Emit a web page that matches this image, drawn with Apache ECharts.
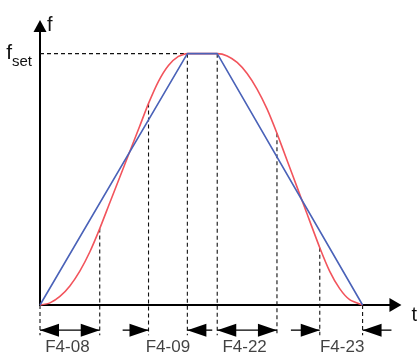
<!DOCTYPE html>
<html>
<head>
<meta charset="utf-8">
<script src="https://cdn.jsdelivr.net/npm/echarts@6/dist/echarts.min.js"></script>
<style>
  html, body { margin: 0; padding: 0; background: #fff; }
  #chart { width: 420px; height: 352px; }
</style>
</head>
<body>
<div id="chart"></div>
<script>
// time axis in arbitrary units, frequency normalised to fset = 1
var blueT = [0, 148, 178, 324]
var blueF = [0, 1, 1, 0]

// S-curve
var redT = [0, 10, 20, 30, 40, 50, 60, 70, 80, 90, 100, 109, 119, 129, 139, 148,
            178, 188, 198, 208, 218, 228, 238, 248, 258, 268, 281, 291, 301, 311, 324]
var redF = [0, 0.0085, 0.034, 0.076, 0.135, 0.211, 0.304, 0.406, 0.507, 0.609, 0.71, 0.802, 0.89, 0.953, 0.989, 1,
            1, 0.991, 0.965, 0.921, 0.859, 0.78, 0.683, 0.577, 0.471, 0.365, 0.228, 0.134, 0.065, 0.021, 0]

// phase boundaries (dashed guides)
var keyTimes = [0, 60, 109, 148, 178, 238, 281, 324]

// bottom dimension arrows: [from, to, arrow at start, arrow at end]
var dimArrows = [
    [0, 60, 'left', 'right'],
    [83, 109, null, 'right'],
    [148, 173, 'left', null],
    [178, 238, 'left', 'right'],
    [252, 281, null, 'right'],
    [324, 353, 'left', null]
]
var dimLabels = ['F4-08', 'F4-09', 'F4-22', 'F4-23']
var dimLabelT = [27.5, 128.5, 205.5, 303.5]

var guideBottom = -0.12
var arrowRow = -0.1
var labelRow = -0.168

function redAt(t) {
    var i = redT.indexOf(t)
    return i >= 0 ? redF[i] : 0
}

var series = []

// fset dashed line
series.push({
    type: 'line', data: [[0, 1], [148, 1]], symbol: 'none', clip: false, silent: true,
    lineStyle: { color: '#111', width: 1.1, type: [4, 3] }, z: 1
})

keyTimes.forEach(function (t) {
    series.push({
        type: 'line', data: [[t, redAt(t)], [t, guideBottom]], symbol: 'none', clip: false, silent: true,
        lineStyle: { color: '#111', width: 1.1, type: [4, 3] }, z: 1
    })
})

series.push({
    name: 'linear', type: 'line', symbol: 'none', clip: false,
    data: blueT.map(function (t, i) { return [t, blueF[i]] }),
    lineStyle: { color: '#4a62b8', width: 1.6 }, z: 3
})
series.push({
    name: 'scurve', type: 'line', symbol: 'none', clip: false, smooth: 0.2,
    data: redT.map(function (t, i) { return [t, redF[i]] }),
    lineStyle: { color: '#f2545c', width: 1.6 }, z: 2
})

function arrowPoint(t, dir) {
    if (!dir) return { value: [t, arrowRow], symbol: 'none' }
    return {
        value: [t, arrowRow],
        symbol: 'triangle',
        symbolSize: [13, 19],
        symbolRotate: dir === 'left' ? 90 : -90,
        symbolOffset: dir === 'left' ? [9.5, 0] : [-9.5, 0]
    }
}

dimArrows.forEach(function (a) {
    series.push({
        type: 'line', clip: false, silent: true,
        data: [arrowPoint(a[0], a[2]), arrowPoint(a[1], a[3])],
        itemStyle: { color: '#000' },
        lineStyle: { color: '#000', width: 1.3 }, z: 4
    })
})

series.push({
    type: 'scatter', clip: false, silent: true, symbolSize: 0,
    data: dimLabels.map(function (n, i) { return { name: n, value: [dimLabelT[i], labelRow] } }),
    label: {
        show: true, position: 'inside', formatter: '{b}',
        color: '#111', fontSize: 17, fontFamily: 'Liberation Sans'
    }
})

var chart = echarts.init(document.getElementById('chart'))
chart.setOption({
    animation: false,
    grid: { left: 40, right: 23, top: 26, bottom: 47 },
    xAxis: {
        type: 'value', min: 0, max: 357,
        name: 't', nameLocation: 'end', nameGap: 16,
        nameTextStyle: { color: '#111', fontSize: 20, fontFamily: 'Liberation Sans', verticalAlign: 'top', padding: [0, 0, 0, 0] },
        axisLine: { show: true, symbol: ['none', 'triangle'], symbolSize: [14, 12],
                    lineStyle: { color: '#000', width: 2 } },
        axisTick: { show: false }, axisLabel: { show: false }, splitLine: { show: false }
    },
    yAxis: {
        type: 'value', min: 0, max: 1.11, interval: 1,
        name: 'f', nameLocation: 'end', nameGap: -9,
        nameTextStyle: { color: '#111', fontSize: 20, fontFamily: 'Liberation Sans', align: 'left', padding: [0, 0, 0, 7] },
        axisLine: { show: true, symbol: ['none', 'triangle'], symbolSize: [13, 12],
                    lineStyle: { color: '#000', width: 2 } },
        axisTick: { show: false }, splitLine: { show: false },
        axisLabel: {
            margin: 8, showMaxLabel: false,
            formatter: function (v) { return v === 1 ? '{a|f}{b|set}' : '' },
            rich: {
                a: { fontSize: 21, color: '#111', fontFamily: 'Liberation Sans', verticalAlign: 'bottom' },
                b: { fontSize: 15, color: '#111', fontFamily: 'Liberation Sans', verticalAlign: 'bottom', padding: [0, 0, -5, 0] }
            }
        }
    },
    series: series
})
</script>
</body>
</html>
